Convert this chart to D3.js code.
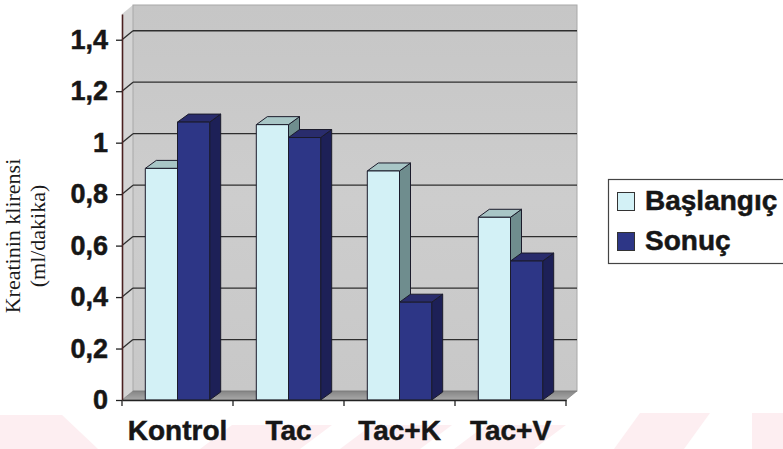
<!DOCTYPE html>
<html>
<head>
<meta charset="utf-8">
<script src="https://cdn.jsdelivr.net/npm/d3@7"></script>
<style>
  html, body { margin: 0; padding: 0; background: #ffffff; }
  svg { display: block; }
</style>
</head>
<body>
<svg id="chart" width="783" height="449"></svg>
<script>
// Kreatinin klirensi per group, baseline vs. end of study
const categories = ["Kontrol", "Tac", "Tac+K", "Tac+V"];
const seriesNames = ["Başlangıç", "Sonuç"];
const baslangic = [0.90, 1.07, 0.89, 0.71];
const sonuc = [1.08, 1.02, 0.38, 0.54];
const yTicks = [0, 0.2, 0.4, 0.6, 0.8, 1.0, 1.2, 1.4];
const yTitleLines = ["Kreatinin klirensi", "(ml/dakika)"];

const svg = d3.select("#chart");
const W = 783, H = 449;

// plot frame (front plane) and 3-D depth offsets
const left = 122, right = 566, base = 400;
const wallDx = 11, wallDy = 9;
const barDx = 11, barDy = 8;

const y = d3.scaleLinear().domain([0, 1.5]).range([base, 14]);
const x0 = d3.scaleBand().domain(categories).range([left, right])
  .paddingInner(0.42).paddingOuter(0.21);
const x1 = d3.scaleBand().domain(seriesNames).range([0, x0.bandwidth()]);

const seriesValues = { "Başlangıç": baslangic, "Sonuç": sonuc };
const colors = {
  "Başlangıç": { front: "#d3f1f6", top: "#a8c6c6", side: "#6f8d8e" },
  "Sonuç":     { front: "#2d3686", top: "#292c6c", side: "#1d2057" }
};

const fmt = d3.formatLocale({ decimal: ",", thousands: ".", grouping: [3], currency: ["", ""] }).format("~g");
const sans = "Liberation Sans, Arial, sans-serif";

const defs = svg.append("defs");
const gWall = defs.append("linearGradient").attr("id", "wall").attr("x1", 0).attr("y1", 0).attr("x2", 0).attr("y2", 1);
gWall.append("stop").attr("offset", 0).attr("stop-color", "#c6c6c6");
gWall.append("stop").attr("offset", 0.5).attr("stop-color", "#cdcdcd");
gWall.append("stop").attr("offset", 1).attr("stop-color", "#c8c8c8");
const gFloor = defs.append("linearGradient").attr("id", "floor").attr("x1", 0).attr("y1", 0).attr("x2", 0).attr("y2", 1);
gFloor.append("stop").attr("offset", 0).attr("stop-color", "#858585");
gFloor.append("stop").attr("offset", 1).attr("stop-color", "#a9a9a9");

// faint watermark band along the bottom
const mark = svg.append("g").attr("fill", "#fdeef1");
[[0, 415, 62, 98], [232, 425, 332, 300], [372, 425, 452, 420], [486, 425, 566, 534], [640, 413, 710, 684], [752, 413, 783, 783]]
  .forEach(([xa, ya, xb, xc]) => {
    mark.append("polygon").attr("points", `${xa},${ya} ${xb},${ya} ${xc},${H} ${Math.min(xa, xc - (xb - xa))},${H}`);
  });

// walls and floor
const backL = left + wallDx, backR = right + wallDx;
const yBack = v => y(v) - wallDy;
svg.append("polygon")
  .attr("points", `${left},${y(1.5)} ${backL},${yBack(1.5)} ${backL},${yBack(0)} ${left},${base}`)
  .attr("fill", "#d4d4d4");
svg.append("rect")
  .attr("x", backL).attr("y", yBack(1.5))
  .attr("width", backR - backL).attr("height", yBack(0) - yBack(1.5))
  .attr("fill", "url(#wall)").attr("stroke", "#a8a8a8").attr("stroke-width", 1);
svg.append("polygon")
  .attr("points", `${left},${base} ${right},${base} ${backR},${yBack(0)} ${backL},${yBack(0)}`)
  .attr("fill", "url(#floor)").attr("stroke", "#777").attr("stroke-width", 0.6);

// gridlines: along the side wall, then across the back wall
const grid = svg.append("g").attr("stroke", "#2e2e2e").attr("stroke-width", 1.3).attr("fill", "none");
yTicks.filter(v => v > 0).forEach(v => {
  grid.append("line").attr("x1", left).attr("y1", y(v)).attr("x2", backL).attr("y2", yBack(v));
  grid.append("line").attr("x1", backL).attr("y1", yBack(v)).attr("x2", backR).attr("y2", yBack(v));
});

// 3-D columns
const bars = svg.append("g").attr("stroke", "#1b1b2b").attr("stroke-width", 1).attr("stroke-linejoin", "round");
categories.forEach((c, i) => {
  seriesNames.forEach(s => {
    const v = seriesValues[s][i];
    const x = x0(c) + x1(s), w = x1.bandwidth(), t = y(v);
    const col = colors[s];
    bars.append("polygon")
      .attr("points", `${x + w},${t} ${x + w + barDx},${t - barDy} ${x + w + barDx},${base - barDy} ${x + w},${base}`)
      .attr("fill", col.side);
    bars.append("polygon")
      .attr("points", `${x},${t} ${x + barDx},${t - barDy} ${x + w + barDx},${t - barDy} ${x + w},${t}`)
      .attr("fill", col.top);
    bars.append("rect")
      .attr("x", x).attr("y", t).attr("width", w).attr("height", base - t)
      .attr("fill", col.front);
  });
});

function boldText(sel, size) {
  sel.attr("font-family", sans).attr("font-weight", "bold").attr("font-size", size)
    .attr("fill", "#161616").attr("stroke", "#161616").attr("stroke-width", 0.5);
}

// value axis
const yAxis = svg.append("g").attr("transform", `translate(${left},0)`)
  .call(d3.axisLeft(y).tickValues(yTicks).tickFormat(fmt).tickSize(6).tickSizeOuter(0).tickPadding(8));
yAxis.select(".domain").attr("stroke", "#4a2020").attr("stroke-width", 1.6);
yAxis.selectAll(".tick line").attr("stroke", "#222").attr("stroke-width", 1.3);
boldText(yAxis.selectAll(".tick text"), 27);

// category axis
const xAxis = svg.append("g").attr("transform", `translate(0,${base})`)
  .call(d3.axisBottom(x0).tickSize(0).tickSizeOuter(0));
xAxis.select(".domain").attr("stroke", "#222").attr("stroke-width", 1.4);
boldText(xAxis.selectAll(".tick text").attr("y", 40).attr("dy", null), 28);
const step = x0.step();
xAxis.selectAll(".divider").data(d3.range(categories.length + 1)).join("line")
  .attr("class", "divider")
  .attr("x1", k => left + k * step).attr("x2", k => left + k * step)
  .attr("y1", 0).attr("y2", 6)
  .attr("stroke", "#222").attr("stroke-width", 1.3);

// axis title
const title = svg.append("text")
  .attr("transform", `translate(0,236) rotate(-90)`)
  .attr("text-anchor", "middle")
  .attr("font-family", "Liberation Serif, Times New Roman, serif")
  .attr("font-size", 22).attr("fill", "#1a1a1a");
title.selectAll("tspan").data(yTitleLines).join("tspan")
  .attr("x", 0).attr("y", (d, i) => 20 + i * 25)
  .text(d => d);

// legend
const legend = svg.append("g");
legend.append("rect").attr("x", 608.5).attr("y", 179.5).attr("width", 190).attr("height", 84)
  .attr("fill", "#ffffff").attr("stroke", "#444").attr("stroke-width", 1.2);
seriesNames.forEach((s, i) => {
  const yy = 192 + i * 40;
  legend.append("rect").attr("x", 617.5).attr("y", yy + 0.5).attr("width", 17).attr("height", 18)
    .attr("fill", colors[s].front).attr("stroke", "#333").attr("stroke-width", 1);
  boldText(legend.append("text").attr("x", 645).attr("y", yy + 18).text(s), 28);
});
</script>
</body>
</html>
